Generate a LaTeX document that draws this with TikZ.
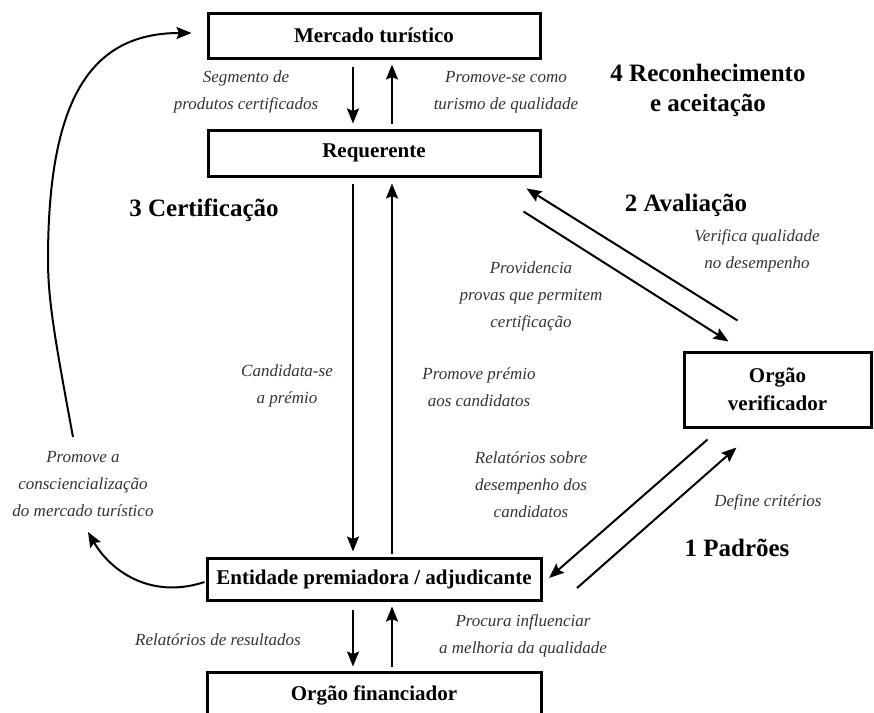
\documentclass[tikz,border=0pt]{standalone}
\usepackage{fontspec}
\setmainfont{Liberation Serif}
\usetikzlibrary{arrows.meta}
\begin{document}
\begin{tikzpicture}[x=1pt,y=-1pt,
  box/.style={draw, line width=3pt, inner sep=0pt, align=center,
    font=\fontsize{21}{28}\selectfont\bfseries},
  lbl/.style={align=center, inner sep=0pt, text=black!80,
    font=\fontsize{17}{27}\selectfont\itshape},
  phase/.style={align=center, inner sep=0pt,
    font=\fontsize{25}{30}\selectfont\bfseries},
  arr/.style={line width=2pt, -{Stealth[length=15pt,width=12pt,inset=2.5pt]}},
  ln/.style={line width=2pt}]
\useasboundingbox (0,0) rectangle (874,712);
\clip (0,0) rectangle (874,712);

% actors
\node[box, minimum width=332pt, minimum height=45pt] (mercado) at (374,35.5) {Mercado turístico};
\node[box, minimum width=332pt, minimum height=46pt] (requerente) at (374,153) {Requerente};
\node[box, minimum width=187pt, minimum height=75pt] (verif) at (777.5,389.5) {Orgão\\verificador};
\node[box, minimum width=334pt, minimum height=42pt] (entidade) at (374,579) {Entidade premiadora / adjudicante};
\node[box, minimum width=334pt, minimum height=46pt] (financ) at (374,695) {Orgão financiador};

% market <-> applicant
\draw[arr, shorten <=7pt, shorten >=5pt] ([xshift=-21pt]mercado.south) -- ([xshift=-21pt]requerente.north);
\draw[arr, shorten <=5pt, shorten >=5pt] ([xshift=18pt]requerente.north) -- ([xshift=18pt]mercado.south);

% applicant <-> awarding body
\draw[arr, shorten <=6pt, shorten >=5pt] ([xshift=-21pt]requerente.south) -- ([xshift=-21pt]entidade.north);
\draw[arr, shorten <=3pt, shorten >=6pt] ([xshift=18pt]entidade.north) -- ([xshift=18pt]requerente.south);

% awarding body <-> funding body
\draw[arr, shorten <=8pt, shorten >=4pt] ([xshift=-21pt]entidade.south) -- ([xshift=-21pt]financ.north);
\draw[arr, shorten <=4pt, shorten >=5pt] ([xshift=18pt]financ.north) -- ([xshift=18pt]entidade.south);

% applicant <-> verifier
\draw[arr] ([shift={(55,-30)}]verif.north west) -- ([shift={(-15,11)}]requerente.south east);
\draw[arr] ([shift={(-18,34)}]requerente.south east) -- ([shift={(46,-9)}]verif.north west);

% verifier <-> awarding body
\draw[arr] ([shift={(25,11)}]verif.south west) -- ([shift={(6.5,-1)}]entidade.east);
\draw[arr] ([shift={(34.5,9)}]entidade.east) -- ([shift={(54,19)}]verif.south west);

% awareness loop back to the market
\coordinate (awareTop) at (73,437);
\coordinate (awareLow) at (88,532);
\draw[arr] ([shift={(-1,3)}]entidade.west) .. controls (150,600) and (110,570) .. (awareLow);
\draw[arr] (awareTop) .. controls (55,340) and (48,300) .. (48,260)
  .. controls (48,100) and (90,33) .. ([shift={(-15,-2.5)}]mercado.west);

% flow labels
\node[lbl] (l1) at (246,92) {Segmento de\\produtos certificados};
\node[lbl] (l2) at (506,92) {Promove-se como\\turismo de qualidade};
\node[lbl] (l3) at (757,251) {Verifica qualidade\\no desempenho};
\node[lbl] (l4) at (531,296) {Providencia\\provas que permitem\\certificação};
\node[lbl] (l5) at (287,386) {Candidata-se\\a prémio};
\node[lbl] (l6) at (479,387) {Promove prémio\\aos candidatos};
\node[lbl] (l7) at (531,485) {Relatórios sobre\\desempenho dos\\candidatos};
\node[lbl] (l8) at (768,502) {Define critérios};
\node[lbl] (l9) at (83,484) {Promove a\\consciencialização\\do mercado turístico};
\node[lbl] (l10) at (218,640) {Relatórios de resultados};
\node[lbl] (l11) at (523,636) {Procura influenciar\\a melhoria da qualidade};

% phases
\node[phase] (p4) at (708,90) {4 Reconhecimento\\e aceitação};
\node[phase] (p3) at (204,210) {3 Certificação};
\node[phase] (p2) at (686,205) {2 Avaliação};
\node[phase] (p1) at (737,548) {1 Padrões};
\end{tikzpicture}
\end{document}
